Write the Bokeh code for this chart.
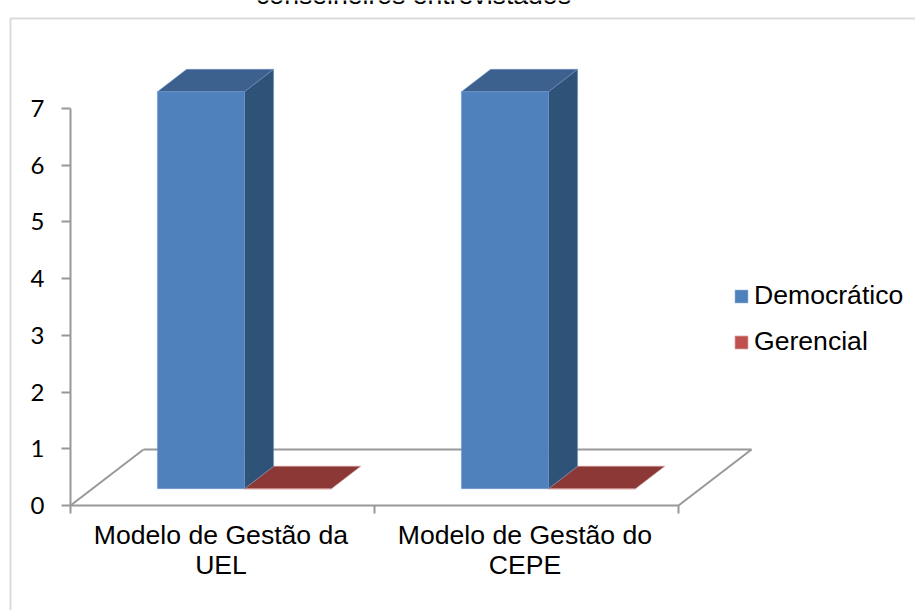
from bokeh.plotting import figure
from bokeh.embed import file_html
from bokeh.resources import INLINE
from bokeh.models import (Range1d, LinearAxis, FixedTicker, Legend, LegendItem,
                          BoxAnnotation, Label)

categories = ["Modelo de Gestão da\nUEL", "Modelo de Gestão do\nCEPE"]
democratico = [7, 7]
gerencial = [0, 0]
y_ticks = [0, 1, 2, 3, 4, 5, 6, 7]
title_text = "conselheiros entrevistados"

W, H = 915, 610
X0, PX_X = 70.0, 304.0      # pixel of category origin, pixels per category
Y0, PX_Y = 505.0, 56.71     # pixel of value 0, pixels per value unit
DEPTH_X, DEPTH_Y = 73.0 / PX_X, 56.0 / PX_Y   # oblique shift of the full floor depth
D_FRONT, D_BACK = 0.30, 0.70                  # depth of bars within the floor
BAR_W = 87.0 / PX_X
BAR_LEFT = 65.0 / PX_X
LABEL_SHIFT = -1.5 / PX_X

FONT = "Liberation Sans"
GRAY = "#868686"
AXIS_GRAY = "#989898"
BLUE, BLUE_TOP, BLUE_SIDE = "#4F81BD", "#3C618F", "#2F5278"
RED, RED_TOP = "#C0504D", "#8C3836"

p = figure(width=W, height=H, output_backend="svg", toolbar_location=None,
           x_range=Range1d(-X0 / PX_X, (W - X0) / PX_X),
           y_range=Range1d((Y0 - H) / PX_Y, Y0 / PX_Y),
           x_axis_type=None, y_axis_type=None, min_border=0,
           outline_line_color=None, styles={"margin": "0"})
p.grid.visible = False


def proj(x, v, d):
    return x + d * DEPTH_X, v + d * DEPTH_Y


# floor outline
n = len(categories)
floor_xs, floor_ys = [], []
for (c, d0), (c2, d1) in [((0, 0), (0, 1)), ((0, 1), (n, 1)), ((n, 1), (n, 0))]:
    a, b = proj(c, 0, d0), proj(c2, 0, d1)
    floor_xs.append([a[0], b[0]])
    floor_ys.append([a[1], b[1]])
p.multi_line(floor_xs, floor_ys, line_color=AXIS_GRAY, line_width=2)


def faces(series, slot):
    fx, fy, tx, ty, sx, sy = [], [], [], [], [], []
    for i, v in enumerate(series):
        l = i + BAR_LEFT + slot * BAR_W
        r = l + BAR_W
        f = [proj(l, 0, D_FRONT), proj(r, 0, D_FRONT), proj(r, v, D_FRONT), proj(l, v, D_FRONT)]
        t = [proj(l, v, D_FRONT), proj(r, v, D_FRONT), proj(r, v, D_BACK), proj(l, v, D_BACK)]
        s = [proj(r, 0, D_FRONT), proj(r, 0, D_BACK), proj(r, v, D_BACK), proj(r, v, D_FRONT)]
        fx.append([q[0] for q in f]); fy.append([q[1] for q in f])
        tx.append([q[0] for q in t]); ty.append([q[1] for q in t])
        sx.append([q[0] for q in s]); sy.append([q[1] for q in s])
    return fx, fy, tx, ty, sx, sy


rfx, rfy, rtx, rty, rsx, rsy = faces(gerencial, 1)
p.patches(rtx, rty, fill_color=RED_TOP, line_color="#C98A88", line_width=1, line_alpha=0.7)
red_front = p.patches(rfx, rfy, fill_color=RED, line_color="#C98A88", line_width=1, line_alpha=0.7)

bfx, bfy, btx, bty, bsx, bsy = faces(democratico, 0)
p.patches(bsx, bsy, fill_color=BLUE_SIDE, line_color="#6F97C9", line_width=1, line_alpha=0.45)
p.patches(btx, bty, fill_color=BLUE_TOP, line_color="#6F97C9", line_width=1, line_alpha=0.45)
blue_front = p.patches(bfx, bfy, fill_color=BLUE, line_color="#6F97C9", line_width=1, line_alpha=0.45)

# axes
yax = LinearAxis(fixed_location=0, ticker=FixedTicker(ticks=y_ticks))
yax.bounds = (0, max(y_ticks))
yax.axis_line_color = AXIS_GRAY
yax.axis_line_width = 2
yax.major_tick_line_color = AXIS_GRAY
yax.major_tick_line_width = 2
yax.major_tick_out = 9
yax.major_tick_in = 0
yax.minor_tick_line_color = None
yax.major_label_standoff = 17
yax.major_label_text_font = "Lato"
yax.major_label_text_font_size = "24px"
yax.major_label_text_color = "#000000"
p.add_layout(yax, "left")

xax = LinearAxis(fixed_location=0, ticker=FixedTicker(ticks=list(range(n + 1))))
xax.bounds = (0, n)
xax.axis_line_color = AXIS_GRAY
xax.axis_line_width = 2
xax.major_tick_line_color = AXIS_GRAY
xax.major_tick_line_width = 2
xax.major_tick_out = 8
xax.major_tick_in = 0
xax.minor_tick_line_color = None
xax.major_label_text_font_size = "0px"
xax.major_label_text_color = None
p.add_layout(xax, "below")

lab = LinearAxis(fixed_location=0, ticker=FixedTicker(ticks=[i + 0.5 + LABEL_SHIFT for i in range(n)]))
lab.major_label_overrides = {i + 0.5 + LABEL_SHIFT: c for i, c in enumerate(categories)}
lab.axis_line_color = None
lab.major_tick_line_color = None
lab.minor_tick_line_color = None
lab.major_tick_out = 0
lab.major_tick_in = 0
lab.major_label_standoff = 14
lab.major_label_text_line_height = 1.03
lab.major_label_text_font = FONT
lab.major_label_text_font_size = "26.6px"
lab.major_label_text_color = "#000000"
p.add_layout(lab, "below")

# chart frame: only its top and left edges lie inside the picture (screen y counts from the bottom)
p.add_layout(BoxAnnotation(left=10, right=W + 40, top=H - 18, bottom=-40, left_units="screen", right_units="screen",
                           top_units="screen", bottom_units="screen", fill_color=None, fill_alpha=0,
                           line_color=GRAY, line_width=2, level="underlay"))

# title, cut by the top edge as in the reference
p.add_layout(Label(x=(413 - X0) / PX_X, y=(Y0 + 6) / PX_Y, text=title_text, text_align="center",
                   text_baseline="alphabetic", text_font=FONT, text_font_size="26.6px", text_color="#000000"))

legend = Legend(items=[LegendItem(label="Democrático", renderers=[blue_front]),
                       LegendItem(label="Gerencial", renderers=[red_front])],
                location=(733, H - 357), orientation="vertical", background_fill_alpha=0,
                border_line_color=None, padding=0, margin=0, spacing=15,
                glyph_width=16, glyph_height=16, label_standoff=5,
                label_text_font=FONT, label_text_font_size="26.6px", label_text_color="#000000",
                label_height=30)
p.add_layout(legend, "center")

open("out.html", "w").write(file_html(p, INLINE))
